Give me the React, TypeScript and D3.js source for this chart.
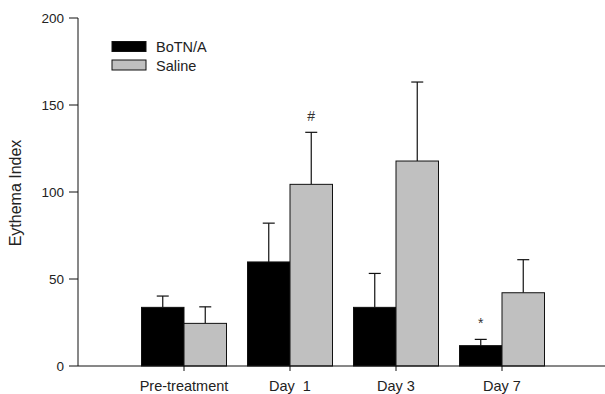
import React from "react";
import * as d3 from "d3";

const categories = ["Pre-treatment", "Day  1", "Day 3", "Day 7"];
const botnMean = [33.7, 59.8, 33.7, 11.7];
const botnErr = [6.5, 22.3, 19.5, 3.6];
const salineMean = [24.5, 104.4, 117.8, 42.1];
const salineErr = [9.5, 29.9, 45.4, 19];
const yTicks = [0, 50, 100, 150, 200];
const marks = [
  { group: 1, series: "saline", text: "#" },
  { group: 3, series: "botn", text: "*" },
];

const W = 605;
const H = 394;
const font = "'Liberation Sans', Arial, sans-serif";

export default function App() {
  const x = d3.scaleLinear().domain([0, 5]).range([78, 608]);
  const y = d3.scaleLinear().domain([0, 200]).range([366, 18]);
  const barW = 42.5;

  const series = [
    { key: "botn", mean: botnMean, err: botnErr, fill: "#000000", offset: -1 },
    { key: "saline", mean: salineMean, err: salineErr, fill: "#c0c0c0", offset: 0 },
  ];

  return (
    <svg width={W} height={H} style={{ position: "absolute", left: 0, top: 0, background: "#fff" }} fontFamily={font}>
      {series.map((s) =>
        categories.map((c, i) => {
          const x0 = x(i + 1) + s.offset * barW;
          const cx = x0 + barW / 2;
          const top = y(s.mean[i]);
          const capY = y(s.mean[i] + s.err[i]);
          return (
            <g key={s.key + c}>
              <line x1={cx} x2={cx} y1={top} y2={capY} stroke="#111" strokeWidth={1.2} />
              <line x1={cx - 6} x2={cx + 6} y1={capY} y2={capY} stroke="#111" strokeWidth={1.2} />
              <rect x={x0} y={top} width={barW} height={y(0) - top} fill={s.fill} stroke="#111" strokeWidth={1} />
            </g>
          );
        })
      )}
      {marks.map((m) => {
        const s = series.find((d) => d.key === m.series)!;
        const cx = x(m.group + 1) + s.offset * barW + barW / 2;
        const yy = y(s.mean[m.group] + s.err[m.group]) - 11;
        return (
          <text key={m.text} x={cx} y={yy} textAnchor="middle" fontSize={14} fill="#333">
            {m.text}
          </text>
        );
      })}
      {/* y axis */}
      <line x1={78} x2={78} y1={y(200)} y2={y(0)} stroke="#111" strokeWidth={1} />
      {yTicks.map((t) => (
        <g key={t}>
          <line x1={69} x2={78} y1={y(t)} y2={y(t)} stroke="#111" strokeWidth={1} />
          <text x={64} y={y(t) + 5} textAnchor="end" fontSize={13.5} fill="#222">
            {t}
          </text>
        </g>
      ))}
      {/* x axis */}
      <line x1={78} x2={605} y1={y(0)} y2={y(0)} stroke="#111" strokeWidth={1} />
      {categories.map((c, i) => (
        <g key={c}>
          <line x1={x(i + 1)} x2={x(i + 1)} y1={y(0)} y2={y(0) + 5} stroke="#111" strokeWidth={1} />
          <text x={x(i + 1)} y={391} textAnchor="middle" fontSize={14.5} fill="#222" style={{ whiteSpace: "pre" }}>
            {c}
          </text>
        </g>
      ))}
      <text transform={`translate(21,${y(100) + 1}) rotate(-90)`} textAnchor="middle" fontSize={16} fill="#222">
        Eythema Index
      </text>
      {/* legend */}
      <rect x={112} y={41.5} width={34} height={10} fill="#000" stroke="#111" />
      <text x={156} y={51.5} fontSize={14.5} fill="#222">BoTN/A</text>
      <rect x={112} y={60} width={34} height={10} fill="#c0c0c0" stroke="#111" />
      <text x={156} y={70.5} fontSize={14.5} fill="#222">Saline</text>
    </svg>
  );
}
